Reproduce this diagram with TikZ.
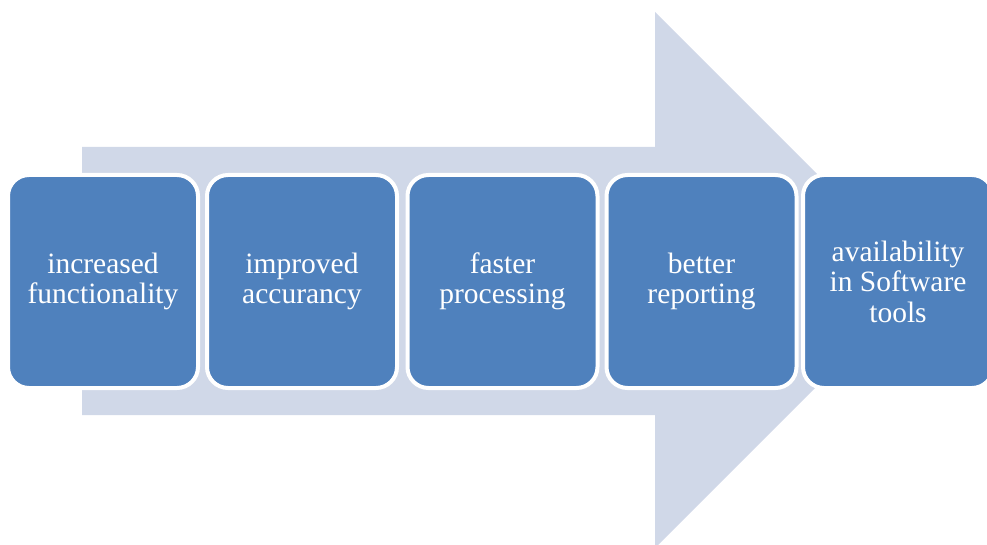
\documentclass[tikz,border=0pt]{standalone}
\usepackage{fontspec}
\setmainfont{Liberation Serif}
\definecolor{boxblue}{HTML}{4F81BD}
\definecolor{arrowgray}{HTML}{D0D8E8}
\begin{document}
\begin{tikzpicture}[x=1pt,y=-1pt,
  stepbox/.style={rectangle, rounded corners=21pt, fill=boxblue, draw=white, line width=4pt,
    minimum width=190pt, minimum height=213pt, text=white, align=center,
    font=\fontsize{29.5}{30.5}\selectfont, inner sep=2pt}]
\useasboundingbox (0,0) rectangle (987,545);
\fill[arrowgray] (82,147) -- (655,147) -- (655,12) -- (923,280) -- (655,548) -- (655,415) -- (82,415) -- cycle;
\node[stepbox] (b1) at (103,281.5) {increased\\functionality};
\node[stepbox] (b2) at (302,281.5) {improved\\accurancy};
\node[stepbox] (b3) at (502.5,281.5) {faster\\processing};
\node[stepbox] (b4) at (701.5,281.5) {better\\reporting};
\node[stepbox] (b5) at (898,281.5) {availability\\in Software\\tools};
\end{tikzpicture}
\end{document}
